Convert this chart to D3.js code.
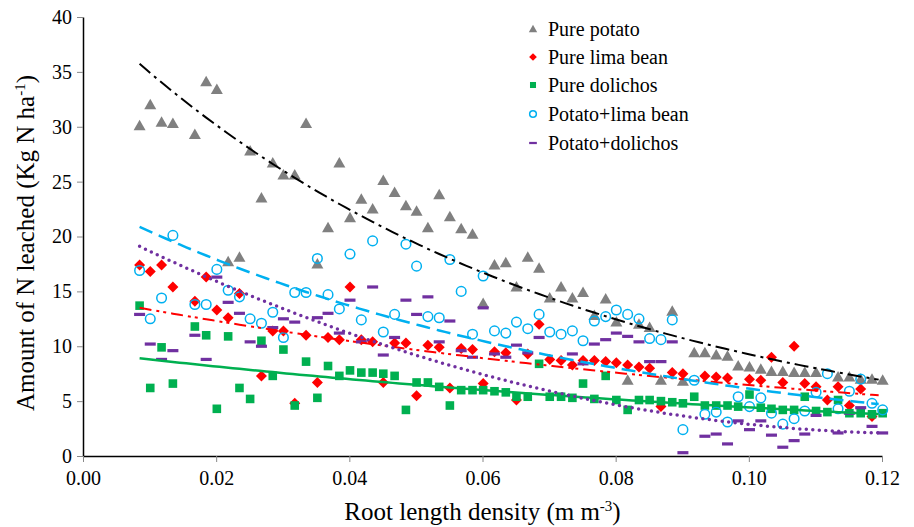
<!DOCTYPE html>
<meta charset="utf-8">
<style>
body { margin: 0; background: #fff; }
text { font-family: "Liberation Serif", "Times New Roman", serif; fill: #000; }
.axis path { stroke: #000; stroke-width: 1.5px; }
.axis line { stroke: #888; stroke-width: 1px; }
</style>
<svg width="914" height="527"></svg>
<script src="https://d3js.org/d3.v7.min.js"></script>
<script>

// Root length density grid shared by the five treatments
let rld = [0.0085,0.0101,0.0118,0.0135,0.0151,0.0168,0.0185,0.0201,0.0218,0.0235,
  0.0251,0.0268,0.0285,0.0301,0.0318,0.0335,0.0352,0.0368,0.0385,0.0401,
  0.0418,0.0435,0.0451,0.0468,0.0485,0.0501,0.0518,0.0535,0.0551,0.0568,
  0.0585,0.0601,0.0618,0.0635,0.0651,0.0668,0.0685,0.0701,0.0718,0.0735,
  0.0751,0.0768,0.0785,0.0801,0.0818,0.0835,0.0851,0.0868,0.0885,0.0901,
  0.0918,0.0934,0.0951,0.0968,0.0984,0.1001,0.1018,0.1034,0.1051,0.1068,
  0.1084,0.1101,0.1118,0.1134,0.1151,0.1168,0.1185,0.1201];

let purePotato = [30.1,32.0,30.4,30.3,null,29.3,34.1,33.4,17.7,18.1,
  27.8,23.5,26.7,25.6,25.6,30.3,17.5,20.8,26.7,21.7,
  23.4,22.5,25.1,24.0,22.8,22.3,20.8,23.8,21.8,20.7,
  20.2,13.9,17.4,17.6,15.4,18.1,17.1,14.4,15.4,14.4,
  14.9,12.8,14.3,12.2,6.9,12.0,11.7,6.9,13.2,6.8,
  9.4,9.4,9.2,9.1,8.2,8.1,7.9,7.7,7.7,7.6,
  7.6,7.6,null,7.2,7.2,7.0,7.0,6.9];

let pureLima = [17.4,16.8,17.4,15.4,null,14.1,16.3,13.3,12.6,14.8,
  null,7.3,11.4,11.4,4.8,11.0,6.7,10.8,10.6,15.4,
  10.6,10.4,6.7,10.3,10.3,5.5,10.1,9.9,6.2,9.8,
  9.7,6.6,9.5,9.4,5.1,9.3,12.0,8.8,8.7,8.3,
  8.7,8.7,8.6,8.5,8.3,8.1,8.0,4.5,7.6,7.5,
  null,7.3,7.2,7.1,null,7.0,6.9,9.0,6.7,10.0,
  6.6,6.3,5.1,6.3,4.6,6.1,3.6,null];

let pureDolichos = [13.7,6.2,9.9,6.6,null,11.8,11.0,4.3,10.9,6.2,
  5.2,10.5,7.3,9.7,4.6,8.6,5.3,8.2,7.3,7.8,
  7.6,7.6,7.5,7.3,4.2,6.7,6.7,6.3,4.6,6.0,
  6.0,6.0,5.9,5.8,5.4,5.4,8.4,5.4,5.4,5.3,
  6.6,5.2,7.3,5.1,4.2,5.1,5.1,5.0,4.9,4.8,
  5.4,4.6,4.6,4.6,4.5,5.6,4.4,4.3,4.2,4.2,
  5.4,4.1,4.0,5.1,3.9,3.9,3.8,3.9];

let potatoLima = [16.9,12.5,14.4,20.1,null,13.8,13.8,17.0,15.1,14.5,
  12.5,12.1,13.1,10.8,14.9,14.9,18.0,14.7,13.4,18.4,
  12.4,19.6,11.3,12.9,19.3,17.3,12.7,12.6,17.9,15.0,
  11.1,16.4,11.4,11.2,12.2,11.6,12.9,11.3,11.1,11.4,
  10.5,12.3,12.7,13.3,12.9,12.5,10.7,10.6,12.4,2.4,
  6.9,3.8,4.0,3.1,5.4,4.5,5.3,3.9,2.9,3.4,
  4.1,5.8,7.5,4.3,5.9,7.0,4.8,4.2];

let potatoDolichos = [12.9,10.2,8.8,9.6,null,11.0,8.8,16.3,14.0,13.0,
  10.4,10.0,11.7,12.5,12.2,null,12.6,13.0,11.2,14.2,
  10.4,15.4,9.2,10.8,14.2,12.9,14.5,10.4,12.3,9.6,
  9.0,13.5,9.3,9.0,10.1,9.4,10.8,null,null,9.3,
  8.4,10.2,10.6,11.2,10.9,10.4,8.6,8.6,10.4,0.3,
  null,1.8,2.0,1.1,3.2,2.4,3.2,1.9,0.8,1.4,
  2.0,3.7,null,2.1,3.9,4.4,2.7,2.1];

let seriesNames = ["Pure potato", "Pure lima bean", "Pure dolichos", "Potato+lima bean", "Potato+dolichos"];
// trendlines: exponential y = a*exp(b*x) for the first four,
// second order polynomial y = c0 + c1*x + c2*x^2 for potato+dolichos
let trendA = [40.5, 14.46, 9.5, 23.4];
let trendB = [-14.74, -8.05, -7.63, -13.38];
let trendPoly = [21.66, -311.2, 1235];

let yTicks = [0, 5, 10, 15, 20, 25, 30, 35, 40];
let xTicks = [0, 0.02, 0.04, 0.06, 0.08, 0.10, 0.12];

let svg = d3.select("svg");
let mLeft = 83, mRight = 882, mTop = 17, mBottom = 456;

let x = d3.scaleLinear().domain([0, 0.12]).range([mLeft, mRight]);
let y = d3.scaleLinear().domain([0, 40]).range([mBottom, mTop]);

svg.append("rect").attr("width", 914).attr("height", 527).attr("fill", "#fff");

let allY = [purePotato, pureLima, pureDolichos, potatoLima, potatoDolichos];
let colors = ["#808080", "#ff0000", "#00b050", "#00b0f0", "#7030a0"];

function marker(g, i, s) {
  // draw marker of series i centred at 0,0, scale s
  if (i == 0) g.append("path").attr("d", `M0,${-6*s}L${6*s},${4.5*s}L${-6*s},${4.5*s}Z`).attr("fill", colors[0]);
  if (i == 1) g.append("path").attr("d", `M0,${-5.5*s}L${5.5*s},0L0,${5.5*s}L${-5.5*s},0Z`).attr("fill", colors[1]);
  if (i == 2) g.append("rect").attr("x", -4.3*s).attr("y", -4.3*s).attr("width", 8.6*s).attr("height", 8.6*s).attr("fill", colors[2]);
  if (i == 3) g.append("circle").attr("r", 4.8*s).attr("fill", "none").attr("stroke", colors[3]).attr("stroke-width", 1.5);
  if (i == 4) g.append("rect").attr("x", -5.5*s).attr("y", -1.6*s).attr("width", 11*s).attr("height", 3.2*s).attr("fill", colors[4]);
}

// points
allY.forEach(function(vals, i) {
  let pts = rld.map(function(d, k) { return {x: d, y: vals[k]}; }).filter(function(d) { return d.y != null; });
  let g = svg.append("g");
  pts.forEach(function(p) {
    let m = g.append("g").attr("transform", `translate(${x(p.x)},${y(p.y)})`);
    marker(m, i, 1);
  });
});

// trendlines
let dashes = ["14,5,3,5", "12,5,3,4,3,5", null, "14,7", "0,6.5"];
let widths = [2, 2, 2.5, 2.5, 3.5];
let xs = d3.range(rld[0], rld[rld.length - 1] + 0.0001, 0.001);
let line = d3.line().x(function(d) { return x(d[0]); }).y(function(d) { return y(d[1]); });
let lineColors = ["#000", "#ff0000", "#00b050", "#00b0f0", "#7030a0"];
function trend(i, v) {
  if (i < 4) return trendA[i] * Math.exp(trendB[i] * v);
  return trendPoly[0] + trendPoly[1] * v + trendPoly[2] * v * v;
}
lineColors.forEach(function(c, i) {
  let pts = xs.map(function(v) { return [v, trend(i, v)]; });
  svg.append("path")
    .attr("d", line(pts))
    .attr("fill", "none")
    .attr("stroke", c)
    .attr("stroke-width", widths[i])
    .attr("stroke-linecap", i == 4 ? "round" : "butt")
    .attr("stroke-dasharray", dashes[i]);
});

// axes
svg.append("g").attr("class", "axis")
  .attr("transform", `translate(${mLeft},0)`)
  .call(d3.axisLeft(y).tickValues(yTicks).tickSize(6).tickSizeOuter(0).tickPadding(5).tickFormat(d3.format("d")));
svg.append("g").attr("class", "axis")
  .attr("transform", `translate(0,${mBottom})`)
  .call(d3.axisBottom(x).tickValues(xTicks).tickSize(6).tickSizeOuter(0).tickPadding(9).tickFormat(d3.format(".2f")));
svg.selectAll(".axis text").style("font-size", "20px").style("font-family", "Liberation Serif");

// axis titles
let xt = svg.append("text").attr("x", (mLeft + mRight) / 2).attr("y", 520)
  .attr("text-anchor", "middle").style("font-size", "25px");
xt.append("tspan").text("Root length density (m m");
xt.append("tspan").attr("dy", -9).style("font-size", "15px").text("-3");
xt.append("tspan").attr("dy", 9).text(")");

let yt = svg.append("text").attr("transform", "translate(34,243) rotate(-90)")
  .attr("text-anchor", "middle").style("font-size", "25px");
yt.append("tspan").text("Amount of N leached (Kg N ha");
yt.append("tspan").attr("dy", -9).style("font-size", "15px").text("-1");
yt.append("tspan").attr("dy", 9).text(")");

// legend
let legendY = [29, 57, 85, 114, 143];
seriesNames.forEach(function(name, i) {
  let g = svg.append("g").attr("transform", `translate(533,${legendY[i]})`);
  marker(g, i, 0.7);
  g.append("text").attr("x", 15).attr("y", 7).style("font-size", "20px").text(name);
});

</script>
